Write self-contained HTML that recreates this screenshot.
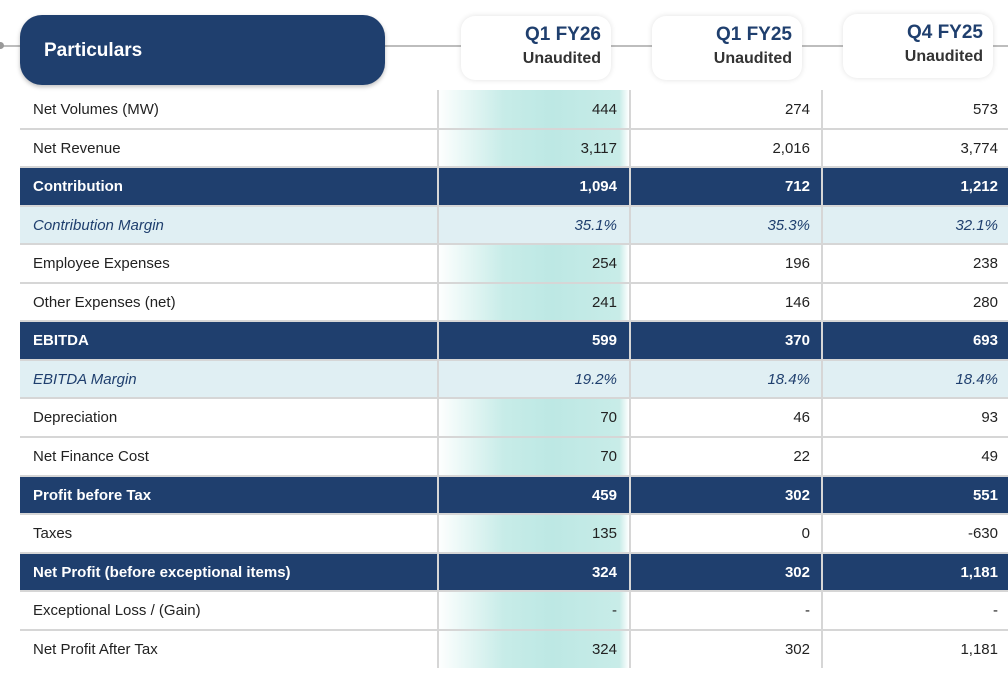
<!DOCTYPE html>
<html><head><meta charset="utf-8"><style>
body{margin:0;width:1008px;height:676px;background:#fff;overflow:hidden;font-family:"Liberation Sans",sans-serif;position:relative}
.abs{position:absolute}
.hline{left:0;top:45px;width:1008px;height:2px;background:#bdbdbd}
.dot{left:-3px;top:42px;width:7px;height:7px;border-radius:50%;background:#999}
.part{left:20px;top:15px;width:365px;height:70px;border-radius:22px;background:#1f3f6e;color:#fff;font-weight:bold;font-size:19px;box-shadow:0 2px 4px rgba(0,0,0,.25)}
.part span{position:absolute;left:24px;top:25px}
.hb{width:150px;height:64px;border-radius:14px;background:#fff;box-shadow:0 0 6px rgba(0,0,0,.12);text-align:right;font-weight:bold}
.hb .a{position:absolute;right:10px;top:8px;font-size:19px;color:#1f3f6e}
.hb .b{position:absolute;right:10px;top:34px;font-size:16px;color:#333}
.grad{left:437px;top:90px;width:192px;height:578px;background:linear-gradient(90deg,#fff 0%,#c7ece8 35%,#bde8e4 60%,#c8ece8 95%,#fff 100%)}
.row{left:20px;width:988px;height:38px;font-size:15px;color:#222}
.row.dark{background:#1f3f6e;color:#fff;font-weight:bold}
.row.light{background:#e0eff3;color:#1f3f6e;font-style:italic}
.sep{left:20px;width:988px;height:2px;background:#d6d6d6}
.lbl{position:absolute;left:13px;top:11px}
.v{position:absolute;top:11px;text-align:right;width:150px}
.vl{top:90px;width:2px;height:578px;background:#d6d6d6}
</style></head><body>
<div class="abs hline"></div>
<div class="abs dot"></div>
<div class="abs part"><span>Particulars</span></div>
<div class="abs hb" style="left:461px;top:16px"><div class="a">Q1 FY26</div><div class="b">Unaudited</div></div>
<div class="abs hb" style="left:652px;top:16px"><div class="a">Q1 FY25</div><div class="b">Unaudited</div></div>
<div class="abs hb" style="left:843px;top:14px"><div class="a">Q4 FY25</div><div class="b">Unaudited</div></div>
<div class="abs grad"></div>
<div id="rows"></div>
<script>
const labels=["Net Volumes (MW)","Net Revenue","Contribution","Contribution Margin","Employee Expenses","Other Expenses (net)","EBITDA","EBITDA Margin","Depreciation","Net Finance Cost","Profit before Tax","Taxes","Net Profit (before exceptional items)","Exceptional Loss / (Gain)","Net Profit After Tax"];
const kinds=["n","n","d","l","n","n","d","l","n","n","d","n","d","n","n"];
const q1fy26=["444","3,117","1,094","35.1%","254","241","599","19.2%","70","70","459","135","324","-","324"];
const q1fy25=["274","2,016","712","35.3%","196","146","370","18.4%","46","22","302","0","302","-","302"];
const q4fy25=["573","3,774","1,212","32.1%","238","280","693","18.4%","93","49","551","-630","1,181","-","1,181"];
const root=document.getElementById('rows');
const top0=90,rh=38.55;
labels.forEach((l,i)=>{
  const y=Math.round(top0+i*rh);
  const r=document.createElement('div');
  r.className='abs row'+(kinds[i]==='d'?' dark':kinds[i]==='l'?' light':'');
  r.style.top=y+'px';
  r.style.height=(Math.round(top0+(i+1)*rh)-y)+'px';
  
  
  r.innerHTML='<span class="lbl">'+l+'</span>';
  [[q1fy26,447],[q1fy25,640],[q4fy25,828]].forEach(([arr,x])=>{
    const s=document.createElement('span');s.className='v';s.style.left=x+'px';s.textContent=arr[i];
    
    
    r.appendChild(s);
  });
  root.appendChild(r);
  if(i>0){const sp=document.createElement('div');sp.className='abs sep';sp.style.top=(y-1)+'px';
    
    
    root.appendChild(sp);}
});
[437,629,821].forEach(x=>{const v=document.createElement('div');v.className='abs vl';v.style.left=x+'px';
  
  
  root.appendChild(v);});
</script>
</body></html>
